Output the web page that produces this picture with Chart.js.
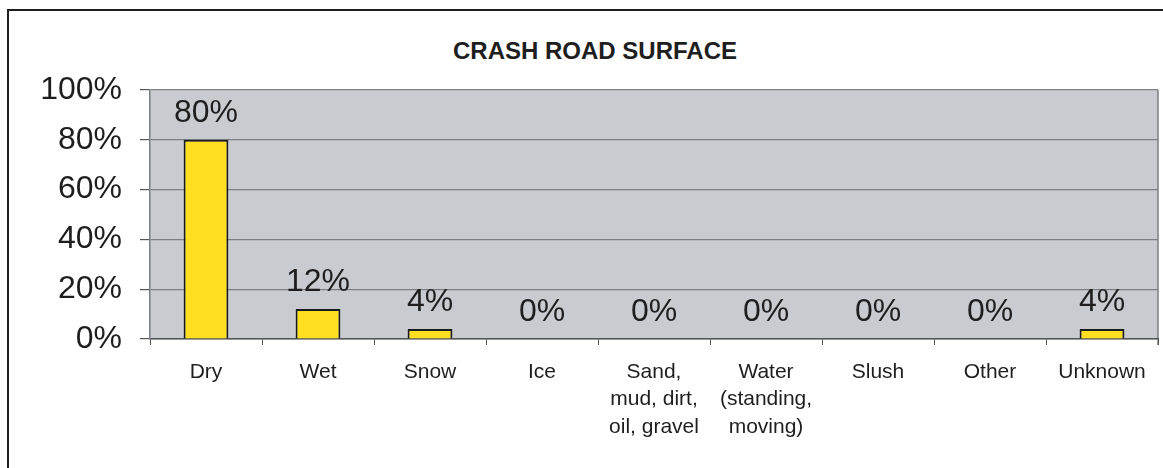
<!DOCTYPE html>
<html>
<head>
<meta charset="utf-8">
<script src="https://cdn.jsdelivr.net/npm/chart.js@4.4.1/dist/chart.umd.min.js"></script>
<style>
  html, body { margin: 0; padding: 0; background: #fff; overflow: hidden; }
  #wrap { position: relative; width: 1163px; height: 468px; }
  #frame { position: absolute; left: 7px; top: 9px; width: 1180px; height: 480px; border: 2px solid #1e1e1e; box-sizing: border-box; }
  #title { position: absolute; left: 395px; width: 400px; top: 37px; text-align: center;
    font: bold 24px "Liberation Sans", Arial, sans-serif; color: #1e1e1e; }
  canvas { position: absolute; left: 0; top: 0; }
</style>
</head>
<body>
<div id="wrap">
  <div id="frame"></div>
  <div id="title">CRASH ROAD SURFACE</div>
  <canvas id="surfaceChart" width="1163" height="468"></canvas>
</div>
<script>
// road surface shares, in percent
const categories = [
  'Dry', 'Wet', 'Snow', 'Ice',
  ['Sand,', 'mud, dirt,', 'oil, gravel'],
  ['Water', '(standing,', 'moving)'],
  'Slush', 'Other', 'Unknown'
];
const shares = [80, 12, 4, 0, 0, 0, 0, 0, 4];
const yTicks = [0, 20, 40, 60, 80, 100];

const FONT = '"Liberation Sans", Arial, sans-serif';

// grey plot background + right edge, like the old Excel chart
const plotBackground = {
  id: 'plotBackground',
  beforeDraw(chart) {
    const { ctx, chartArea: a } = chart;
    ctx.save();
    ctx.fillStyle = '#c8cbd0';
    ctx.fillRect(a.left, a.top, a.right - a.left, a.bottom - a.top);
    ctx.strokeStyle = '#7b7f84';
    ctx.lineWidth = 1.5;
    ctx.beginPath();
    ctx.moveTo(a.right, a.top);
    ctx.lineTo(a.right, a.bottom + 6);
    ctx.stroke();
    ctx.restore();
  }
};

// value labels above each bar
const valueLabels = {
  id: 'valueLabels',
  afterDatasetsDraw(chart) {
    const { ctx } = chart;
    const meta = chart.getDatasetMeta(0);
    ctx.save();
    ctx.font = '32px ' + FONT;
    ctx.fillStyle = '#1e1e1e';
    ctx.textAlign = 'center';
    ctx.textBaseline = 'alphabetic';
    meta.data.forEach((bar, i) => {
      ctx.fillText(shares[i] + '%', bar.x, bar.y - 18);
    });
    ctx.restore();
  }
};

const ctx = document.getElementById('surfaceChart').getContext('2d');
new Chart(ctx, {
  type: 'bar',
  data: {
    labels: categories,
    datasets: [{
      data: shares,
      backgroundColor: '#ffdf1f',
      borderColor: '#1a1a1a',
      borderWidth: 2,
      barPercentage: 0.4,
      categoryPercentage: 1
    }]
  },
  options: {
    responsive: false,
    animation: false,
    layout: { padding: { top: 90, right: 5, left: 0, bottom: 0 } },
    plugins: {
      legend: { display: false },
      tooltip: { enabled: false },
      title: { display: false }
    },
    scales: {
      x: {
        afterFit: (scale) => { scale.height = 129; },
        grid: {
          drawOnChartArea: false,
          drawTicks: true,
          tickLength: 6,
          tickColor: '#555'
        },
        border: { color: '#555', width: 1.5 },
        ticks: {
          color: '#1e1e1e',
          padding: 13,
          maxRotation: 0,
          autoSkip: false,
          font: { family: FONT, size: 21, lineHeight: 1.31 }
        }
      },
      y: {
        min: 0,
        max: 100,
        afterFit: (scale) => { scale.width = 150; },
        afterBuildTicks: (scale) => { scale.ticks = yTicks.map(v => ({ value: v })); },
        grid: {
          color: '#7b7f84',
          lineWidth: 1.2,
          tickLength: 10,
          tickColor: '#555'
        },
        border: { color: '#7b7f84', width: 1.5 },
        ticks: {
          color: '#1e1e1e',
          padding: 18,
          font: { family: FONT, size: 32 },
          callback: (v) => v + '%'
        }
      }
    }
  },
  plugins: [plotBackground, valueLabels]
});
</script>
</body>
</html>
